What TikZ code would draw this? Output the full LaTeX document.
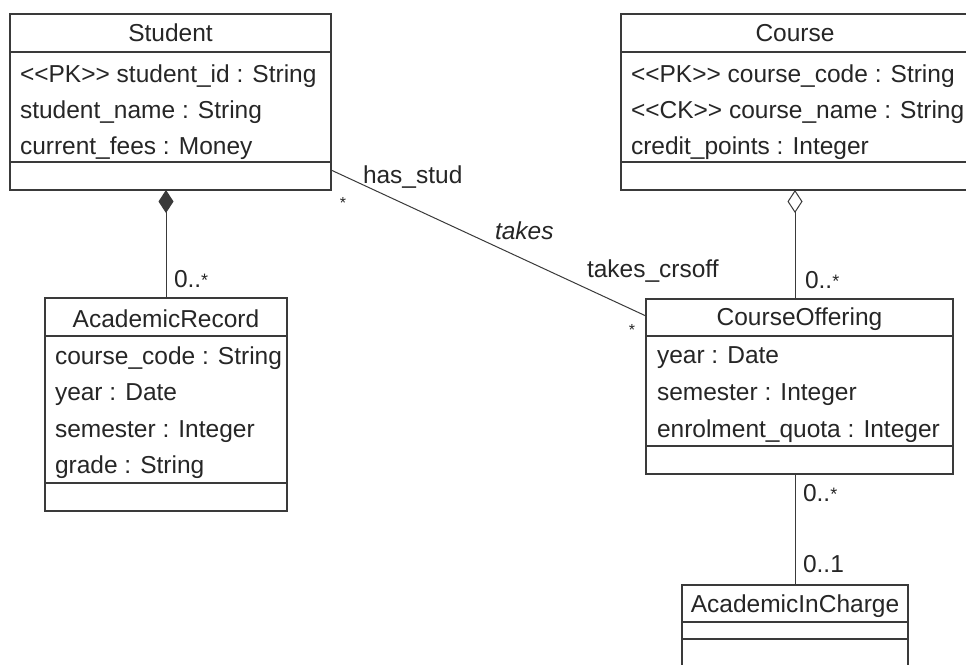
\documentclass[tikz,border=0pt]{standalone}
\usepackage{fontspec}
\setmainfont{Liberation Sans}
\usetikzlibrary{arrows.meta,calc}
\definecolor{ln}{HTML}{3A3A3A}
\definecolor{tx}{HTML}{262626}
\newcommand{\mstar}{\raisebox{1pt}{\fontsize{18}{18}\selectfont *}}
\begin{document}
\begin{tikzpicture}[x=1pt,y=-1pt,
  cls/.style={draw=ln, line width=1.4pt, inner sep=0pt, outer sep=0pt},
  divider/.style={draw=ln, line width=1.4pt},
  txt/.style={inner sep=0pt, outer sep=0pt, text=tx, font=\fontsize{24.5}{28}\selectfont},
  attr/.style={txt, anchor=base west},
  ttl/.style={txt, anchor=base},
  conn/.style={draw=ln, line width=1pt},
  star/.style={text=tx, font=\fontsize{16}{16}\selectfont, inner sep=0pt, anchor=base}]
\useasboundingbox (0,0) rectangle (966,664);
\fill[white] (0,0) rectangle (966,664);

% Student
\node[cls, minimum width=321pt, minimum height=176pt] (student) at (170.5,102) {};
\draw[divider] (student.west |- 0,52) -- (student.east |- 0,52);
\draw[divider] (student.west |- 0,162) -- (student.east |- 0,162);
\node[ttl] (studentT) at (170.5,41) {Student};
\node[attr] (s1) at (20,82) {<\kern0pt<PK>\kern0pt> student\_id : String};
\node[attr] (s2) at (20,118) {student\_name : String};
\node[attr] (s3) at (20,154) {current\_fees : Money};

% Course
\node[cls, minimum width=348pt, minimum height=176pt] (course) at (795,102) {};
\draw[divider] (course.west |- 0,52) -- (course.east |- 0,52);
\draw[divider] (course.west |- 0,162) -- (course.east |- 0,162);
\node[ttl] (courseT) at (795,41) {Course};
\node[attr] (c1) at (631,82) {<\kern0pt<PK>\kern0pt> course\_code : String};
\node[attr] (c2) at (631,118) {<\kern0pt<CK>\kern0pt> course\_name : String};
\node[attr] (c3) at (631,154) {credit\_points : Integer};

% AcademicRecord
\node[cls, minimum width=242pt, minimum height=213pt] (arec) at (166,404.5) {};
\draw[divider] (arec.west |- 0,336) -- (arec.east |- 0,336);
\draw[divider] (arec.west |- 0,483) -- (arec.east |- 0,483);
\node[ttl] (arecT) at (166,327) {AcademicRecord};
\node[attr] (a1) at (55,364) {course\_code : String};
\node[attr] (a2) at (55,400) {year : Date};
\node[attr] (a3) at (55,437) {semester : Integer};
\node[attr] (a4) at (55,473) {grade : String};

% CourseOffering
\node[cls, minimum width=307pt, minimum height=175pt] (co) at (799.5,386.5) {};
\draw[divider] (co.west |- 0,336) -- (co.east |- 0,336);
\draw[divider] (co.west |- 0,446) -- (co.east |- 0,446);
\node[ttl] (coT) at (799.5,325) {CourseOffering};
\node[attr] (o1) at (657,363) {year : Date};
\node[attr] (o2) at (657,400) {semester : Integer};
\node[attr] (o3) at (657,437) {enrolment\_quota : Integer};

% AcademicInCharge
\node[cls, minimum width=226pt, minimum height=85pt] (aic) at (795,627.5) {};
\draw[divider] (aic.west |- 0,622) -- (aic.east |- 0,622);
\draw[divider] (aic.west |- 0,639) -- (aic.east |- 0,639);
\node[ttl] (aicT) at (795,612) {AcademicInCharge};

% connectors
\draw[conn, {Diamond[length=23pt,width=15pt,fill=ln]}-] (student.south -| arec.north) -- (arec.north);
\draw[conn, {Diamond[open,length=23pt,width=15pt]}-] (course.south) -- (course.south |- co.north);
\draw[conn] (co.south -| aic.north) -- (aic.north);
\draw[conn] ([yshift=-68pt]student.east) -- ([yshift=70.5pt]co.west);

% labels
\node[attr] (lhs) at (363,183) {has\_stud};
\node[attr, font=\fontsize{24.5}{28}\selectfont\itshape] (ltk) at (495,239) {takes};
\node[attr] (ltc) at (587,277) {takes\_crsoff};
\node[star] (st1) at (343,208) {*};
\node[star] (st2) at (632,335) {*};
\node[attr] (m1) at (174,287) {0..\mstar};
\node[attr] (m2) at (805,288) {0..\mstar};
\node[attr] (m3) at (803,501) {0..\mstar};
\node[attr] (m4) at (803,572) {0..1};
\end{tikzpicture}
\end{document}
